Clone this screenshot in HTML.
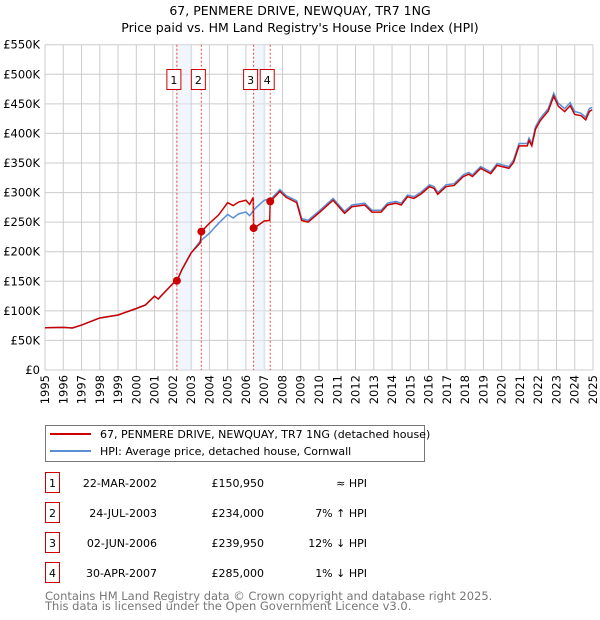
<!DOCTYPE html>
<html><head><meta charset="utf-8"><style>
body{margin:0;background:#fff;}
svg{display:block;font-family:"DejaVu Sans","Liberation Sans",sans-serif;}
</style></head><body>
<svg id="chart" width="600" height="620">
<text x="300" y="15" text-anchor="middle" font-size="12.5">67, PENMERE DRIVE, NEWQUAY, TR7 1NG</text>
<text x="300" y="32" text-anchor="middle" font-size="12.5">Price paid vs. HM Land Registry's House Price Index (HPI)</text>
<g id="grid"></g><g id="shades"></g><g id="axes"></g><g id="series"></g><g id="markers"></g>
<g>
<rect x="45.5" y="425.5" width="379" height="36" fill="#fff" stroke="#777"/>
<line x1="50" y1="434" x2="91" y2="434" stroke="#cc0000" stroke-width="2"/>
<text x="100" y="438" font-size="11">67, PENMERE DRIVE, NEWQUAY, TR7 1NG (detached house)</text>
<line x1="50" y1="451" x2="91" y2="451" stroke="#5b8fd4" stroke-width="2"/>
<text x="100" y="455" font-size="11">HPI: Average price, detached house, Cornwall</text>
</g>
<g id="table" font-size="11"></g>
<text x="45" y="600" font-size="11.5" fill="#777">Contains HM Land Registry data © Crown copyright and database right 2025.</text>
<text x="45" y="610" font-size="11.5" fill="#777">This data is licensed under the Open Government Licence v3.0.</text>
</svg>
<script>
const yTicks=[0,50,100,150,200,250,300,350,400,450,500,550];
const yTickLabels=["£0","£50K","£100K","£150K","£200K","£250K","£300K","£350K","£400K","£450K","£500K","£550K"];
const xYears=[1995,1996,1997,1998,1999,2000,2001,2002,2003,2004,2005,2006,2007,2008,2009,2010,2011,2012,2013,2014,2015,2016,2017,2018,2019,2020,2021,2022,2023,2024,2025];
const hpiYears=[1995,1996,1996.5,1997,1998,1999,2000,2000.5,2001,2001.2,2001.5,2002,2002.22,2002.5,2003,2003.5,2004,2004.5,2005,2005.3,2005.6,2006,2006.2,2006.5,2007,2007.4,2007.86,2008.2,2008.78,2009.05,2009.4,2010.05,2010.77,2011.4,2011.8,2012.5,2012.9,2013.4,2013.75,2014.2,2014.5,2014.85,2015.2,2015.6,2016.05,2016.3,2016.5,2016.95,2017.4,2017.9,2018.2,2018.4,2018.85,2019.4,2019.75,2020.4,2020.65,2020.95,2021.4,2021.5,2021.65,2021.85,2022.1,2022.55,2022.85,2023.1,2023.45,2023.75,2024.0,2024.35,2024.6,2024.8,2024.95];
const hpiValues=[71.5,72,71,76,88,93,104,110,125,120,130,146,150,170,198,218,231,248,263,257,264,267,261,273,287,290,305,295,286,256,253,270,290,268,279,282,270,270,282,285,282,296,293,301,313,310,300,313,315,330,334,330,344,335,349,344,355,383,383,392,383,411,425,442,468,451,442,452,437,434,427,442,444];
const priceYears=[1995,1996,1996.5,1997,1998,1999,2000,2000.5,2001,2001.2,2001.5,2002,2002.22,2002.5,2003,2003.5,2003.56,2004,2004.5,2005,2005.3,2005.6,2006,2006.2,2006.4,2006.42,2006.5,2007,2007.3,2007.33,2007.86,2008.2,2008.78,2009.05,2009.4,2010.05,2010.77,2011.4,2011.8,2012.5,2012.9,2013.4,2013.75,2014.2,2014.5,2014.85,2015.2,2015.6,2016.05,2016.3,2016.5,2016.95,2017.4,2017.9,2018.2,2018.4,2018.85,2019.4,2019.75,2020.4,2020.65,2020.95,2021.4,2021.5,2021.65,2021.85,2022.1,2022.55,2022.85,2023.1,2023.45,2023.75,2024.0,2024.35,2024.6,2024.8,2024.95];
const priceValues=[71.5,72,71,76,88,93,104,110,125,120,130,146,151,170,198,215,234,248,262,283,278,284,287,280,292,240,241,252,253,285,302,292,283,253,250,267,287,265,276,279,267,267,279,282,279,293,290,298,310,307,297,310,312,327,331,327,341,332,346,341,351,379,379,388,379,407,421,438,463,446,437,447,432,430,423,437,440];
const saleYears=[2002.22,2003.56,2006.42,2007.33];
const saleValues=[150.95,234,239.95,285];
const saleLabels=["1","2","3","4"];
const saleDates=["22-MAR-2002","24-JUL-2003","02-JUN-2006","30-APR-2007"];
const salePrices=["£150,950","£234,000","£239,950","£285,000"];
const saleHpi=["≈ HPI","7% ↑ HPI","12% ↓ HPI","1% ↓ HPI"];
const shadeStart=[2002.15,2006.44];
const shadeEnd=[2002.99,2007.08];

const X0=45,X1=593,Y0=370,Y1=44.7;
const xs=y=>X0+(y-1995)/30*(X1-X0);
const ys=v=>Y0-v/550*(Y0-Y1);
const NS="http://www.w3.org/2000/svg";
function mk(p,t,a){const e=document.createElementNS(NS,t);for(const k in a)e.setAttribute(k,a[k]);p.appendChild(e);return e;}
const grid=document.getElementById('grid'),axes=document.getElementById('axes'),series=document.getElementById('series'),markers=document.getElementById('markers'),shades=document.getElementById('shades'),table=document.getElementById('table');
yTicks.forEach((v,i)=>{
  const l=mk(grid,'line',{x1:X0,x2:X1,y1:ys(v),y2:ys(v),stroke:'#ccc','stroke-width':1});
  
  
  const t=mk(axes,'text',{x:X0-5,y:ys(v)+4,'text-anchor':'end','font-size':11.5});
  t.textContent=yTickLabels[i];
  
  
});
xYears.forEach(yr=>{
  const l=mk(grid,'line',{x1:xs(yr),x2:xs(yr),y1:Y1,y2:Y0,stroke:'#ccc','stroke-width':1});
  
  
  const t=mk(axes,'text',{transform:`translate(${xs(yr)+4},${Y0+5}) rotate(-90)`,'text-anchor':'end','font-size':11.5});
  t.textContent=yr;
  
  
});
shadeStart.forEach((s,i)=>{
  const r=mk(shades,'rect',{x:xs(s),y:Y1,width:xs(shadeEnd[i])-xs(s),height:Y0-Y1,fill:'#e3ecfa','fill-opacity':0.5});
  
  
});
const hp=mk(series,'polyline',{points:hpiYears.map((y,i)=>xs(y)+','+ys(hpiValues[i])).join(' '),fill:'none',stroke:'#5b8fd4','stroke-width':1.5});


const pp=mk(series,'polyline',{points:priceYears.map((y,i)=>xs(y)+','+ys(priceValues[i])).join(' '),fill:'none',stroke:'#cc0000','stroke-width':1.5});


saleYears.forEach((s,i)=>{
  const l=mk(markers,'line',{x1:xs(s),x2:xs(s),y1:Y1,y2:Y0,stroke:'#ee4444','stroke-dasharray':'2,2','stroke-width':1});
  
  
  const c=mk(markers,'circle',{cx:xs(s),cy:ys(saleValues[i]),r:4,fill:'#cc0000'});
  
  
  const g=mk(markers,'g',{});
  
  
  const cx=xs(s)-3;
  mk(g,'rect',{x:cx-7,y:69.5,width:14,height:20,fill:'#fff',stroke:'#cc0000'});
  const t=mk(g,'text',{x:cx,y:84,'text-anchor':'middle','font-size':11});
  t.textContent=saleLabels[i];
});
saleLabels.forEach((lab,i)=>{
  const y=483+i*30;
  const g=mk(table,'g',{});
  
  
  mk(g,'rect',{x:45.5,y:y-10.5,width:14,height:20,fill:'#fff',stroke:'#cc0000'});
  const t0=mk(g,'text',{x:52.5,y:y+4,'text-anchor':'middle'});t0.textContent=lab;
  const t1=mk(g,'text',{x:157,y:y+4,'text-anchor':'end'});t1.textContent=saleDates[i];
  const t2=mk(g,'text',{x:264,y:y+4,'text-anchor':'end'});t2.textContent=salePrices[i];
  const t3=mk(g,'text',{x:367,y:y+4,'text-anchor':'end'});t3.textContent=saleHpi[i];
});
</script>
</body></html>
